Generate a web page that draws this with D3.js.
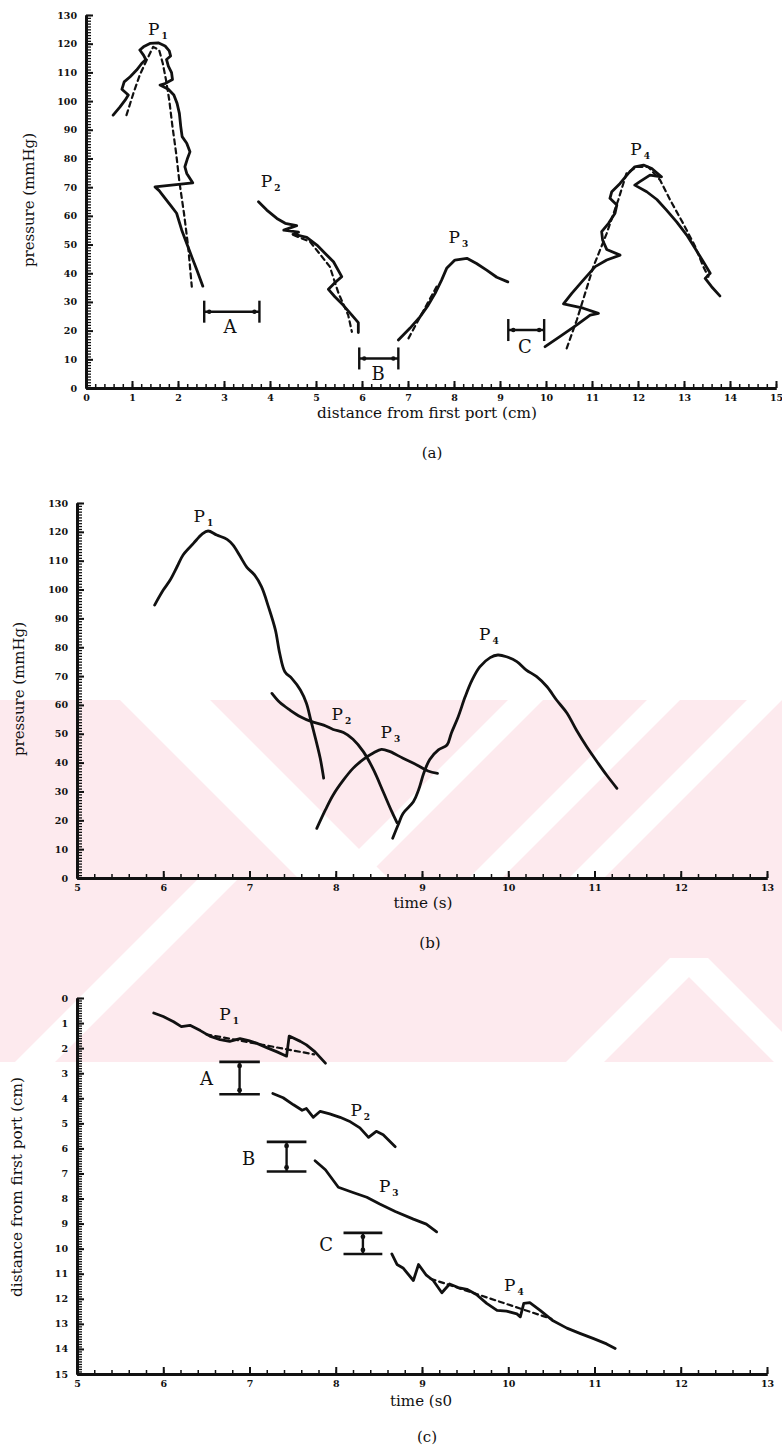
<!DOCTYPE html>
<html><head><meta charset="utf-8">
<script src="https://cdn.jsdelivr.net/npm/d3@7"></script>
<style>body{margin:0;background:#fff}svg{display:block}</style>
</head><body>
<svg id="chart" width="782" height="1451"></svg>
<script>
// ---------- DATA ----------
// Panel (a): pressure (mmHg) vs distance from first port (cm)
const aP1 = [[0.59,95.1],[0.74,98.0],[0.85,100.3],[0.92,102.1],[0.78,104.1],[0.83,106.7],[0.96,108.5],[1.10,110.8],[1.21,113.1],[1.30,114.5],[1.25,116.0],[1.17,117.8],[1.25,118.9],[1.39,120.1],[1.57,120.3],[1.72,119.2],[1.81,117.5],[1.84,115.7],[1.75,114.5],[1.79,112.2],[1.86,109.9],[1.88,107.5],[1.72,106.1],[1.61,105.6],[1.79,104.1],[1.91,102.1],[1.98,99.2],[2.03,95.7],[2.06,91.1],[2.09,87.6],[2.19,85.3],[2.26,82.3],[2.20,79.7],[2.15,77.1],[2.19,74.8],[2.32,71.5],[1.50,70.1],[1.59,68.8],[1.72,66.1],[1.86,63.2],[1.97,60.9],[2.08,55.1],[2.19,50.4],[2.30,45.7],[2.41,41.1],[2.54,35.5]];
const aP1fit = [[0.88,95.1],[1.03,102.7],[1.17,109.1],[1.32,114.3],[1.46,118.9],[1.59,117.8],[1.67,113.1],[1.74,107.3],[1.81,100.3],[1.88,91.1],[1.96,81.8],[2.03,71.9],[2.13,60.9],[2.22,49.4],[2.30,35.3]];
const aP2 = [[3.75,64.9],[3.93,62.0],[4.15,59.1],[4.33,57.4],[4.58,56.6],[4.30,55.0],[4.62,54.3],[4.50,53.6],[4.80,52.5],[5.02,49.8],[5.20,46.9],[5.38,44.0],[5.56,38.8],[5.41,36.7],[5.27,34.4],[5.41,31.8],[5.59,28.9],[5.78,25.4],[5.92,22.8],[5.92,19.3]];
const aP2fit = [[4.51,53.3],[4.87,51.0],[5.30,42.3],[5.49,33.0],[5.70,25.4],[5.78,19.6]];
const aP3 = [[6.79,16.7],[7.04,20.8],[7.26,24.8],[7.44,28.9],[7.59,33.0],[7.73,37.6],[7.84,41.7],[8.02,44.6],[8.28,45.2],[8.49,43.4],[8.71,41.1],[8.93,38.6],[9.17,37.0]];
const aP3fit = [[7.01,17.3],[7.62,35.3]];
const aP4 = [[9.98,14.4],[10.30,17.9],[10.67,22.0],[10.96,25.4],[11.14,26.0],[10.81,27.8],[10.38,29.3],[10.56,33.0],[10.81,37.6],[11.07,42.3],[11.32,44.6],[11.61,46.3],[11.32,48.3],[11.23,51.6],[11.21,54.5],[11.36,57.4],[11.50,60.9],[11.54,63.8],[11.39,66.1],[11.43,68.4],[11.61,71.3],[11.79,74.8],[11.93,77.1],[12.12,77.7],[12.30,76.5],[12.51,73.6],[12.26,74.2],[12.04,71.9],[11.93,70.7],[12.19,68.4],[12.41,65.7],[12.62,62.0],[12.84,57.9],[13.06,53.3],[13.24,48.7],[13.42,44.0],[13.57,40.0],[13.46,38.2],[13.60,35.3],[13.78,32.1]];
const aP4fit = [[10.45,13.8],[10.67,23.7],[10.85,33.0],[11.03,42.3],[11.32,53.9],[11.57,65.5],[11.75,74.8],[11.97,77.1],[12.22,77.1],[12.48,72.5],[12.70,65.5],[12.98,57.4],[13.24,49.4],[13.42,42.3],[13.53,38.8]];
const aRanges = [{name:"A",from:2.57,to:3.77,at:26.6},{name:"B",from:5.94,to:6.79,at:10.3},{name:"C",from:9.18,to:9.96,at:20.2}];
const aRangeText = [[3.13,19.2],[6.35,2.8],[9.54,12.2]];
const aPeakText = [[1.35,123.0],[3.80,70.0],[7.88,50.5],[11.83,81.2]];

// Panel (b): pressure (mmHg) vs time (s)
const bP1 = [[5.90,94.6],[6.00,99.8],[6.08,103.3],[6.16,107.9],[6.23,112.0],[6.35,116.0],[6.45,119.2],[6.52,120.3],[6.62,118.9],[6.74,117.4],[6.81,115.4],[6.89,111.6],[6.97,107.7],[7.06,105.0],[7.14,100.9],[7.22,94.0],[7.30,86.0],[7.35,77.9],[7.41,71.5],[7.49,69.2],[7.59,65.2],[7.66,60.6],[7.71,54.8],[7.77,47.8],[7.82,41.5],[7.86,34.6]];
const bP2 = [[7.26,64.0],[7.35,60.9],[7.47,58.2],[7.59,55.9],[7.72,54.2],[7.86,53.0],[7.97,51.5],[8.09,50.4],[8.20,48.1],[8.32,43.8],[8.44,37.4],[8.55,29.9],[8.65,23.0],[8.71,19.2]];
const bP3 = [[7.78,17.2],[7.88,23.6],[7.97,28.8],[8.09,34.0],[8.20,38.0],[8.32,41.1],[8.44,43.4],[8.53,44.6],[8.63,43.8],[8.78,41.5],[8.94,39.2],[9.07,37.1],[9.18,36.3]];
const bP4 = [[8.66,13.8],[8.73,18.9],[8.78,22.4],[8.90,26.4],[8.96,30.5],[9.02,36.3],[9.09,41.1],[9.19,44.4],[9.29,46.1],[9.34,50.2],[9.42,55.9],[9.50,62.8],[9.58,68.6],[9.67,73.2],[9.79,76.4],[9.88,77.3],[9.98,76.7],[10.10,75.0],[10.21,72.1],[10.33,69.8],[10.45,66.3],[10.56,61.7],[10.68,57.2],[10.79,51.3],[10.91,45.5],[11.03,40.3],[11.14,35.7],[11.26,31.1]];
const bPeakText = [[6.35,123.5],[7.95,54.8],[8.52,48.4],[9.66,82.5]];

// Panel (c): distance from first port (cm) vs time (s)
const cP1 = [[5.89,0.60],[6.00,0.74],[6.12,0.95],[6.21,1.14],[6.31,1.09],[6.43,1.30],[6.54,1.52],[6.66,1.66],[6.77,1.73],[6.89,1.62],[6.99,1.70],[7.08,1.80],[7.20,1.98],[7.32,2.15],[7.43,2.32],[7.46,1.52],[7.59,1.73],[7.66,1.87],[7.76,2.15],[7.88,2.60]];
const cP1fit = [[6.50,1.45],[7.75,2.25]];
const cP2 = [[7.27,3.81],[7.39,3.98],[7.51,4.26],[7.61,4.48],[7.66,4.41],[7.74,4.76],[7.82,4.52],[7.93,4.62],[8.05,4.76],[8.17,4.94],[8.28,5.18],[8.38,5.56],[8.47,5.32],[8.55,5.46],[8.69,5.93]];
const cP3 = [[7.76,6.49],[7.88,6.85],[8.03,7.55],[8.20,7.76],[8.36,7.95],[8.51,8.22],[8.69,8.52],[8.90,8.82],[9.05,9.02],[9.17,9.33]];
const cP4 = [[8.65,10.21],[8.71,10.63],[8.78,10.77],[8.90,11.27],[8.96,10.63],[9.05,11.06],[9.13,11.27],[9.23,11.76],[9.32,11.41],[9.42,11.55],[9.52,11.62],[9.63,11.83],[9.75,12.18],[9.87,12.46],[9.98,12.49],[10.10,12.60],[10.14,12.72],[10.18,12.18],[10.25,12.15],[10.37,12.46],[10.52,12.88],[10.68,13.17],[10.83,13.38],[10.99,13.59],[11.14,13.80],[11.24,13.98]];
const cP4fit = [[9.10,11.20],[10.50,12.80]];
const cRanges = [{name:"A",from:2.55,to:3.84,t0:6.65,t1:7.12},{name:"B",from:5.74,to:6.92,t0:7.20,t1:7.66},{name:"C",from:9.37,to:10.21,t0:8.09,t1:8.54}];
const cRangeText = [[6.50,3.47],[6.99,6.66],[7.89,10.09]];
const cPeakText = [[6.65,0.88],[8.17,4.69],[8.50,7.74],[9.95,11.69]];

// tick labels
const aXTicks = d3.range(0,16,1);
const aYTicks = d3.range(0,140,10);
const bXTicks = d3.range(5,14,1);
const bYTicks = d3.range(0,140,10);
const cXTicks = d3.range(5,14,1);
const cYTicks = d3.range(0,16,1);
const peakNames = ["1","2","3","4"];

// ---------- DRAWING ----------
const svg = d3.select("#chart");
svg.append("rect").attr("width",782).attr("height",1451).attr("fill","#fff");

// faint background watermark: pink band with a few white diagonal stripes
const defs = svg.append("defs");
defs.append("clipPath").attr("id","band").append("rect").attr("x",0).attr("y",700).attr("width",782).attr("height",362);
const wg = svg.append("g").attr("clip-path","url(#band)");
wg.append("rect").attr("x",0).attr("y",700).attr("width",782).attr("height",362).attr("fill","#fdeaee");
const W = "#ffffff";
function poly(pts){ wg.append("polygon").attr("points",pts.map(p=>p.join(",")).join(" ")).attr("fill",W); }
// "/" stripes on the right side (x + y = const)
[[1208,1243],[1347,1380],[1447,1482]].forEach(([c0,c1])=>{
  poly([[c0-700,700],[c1-700,700],[c1-880,880],[c0-880,880]]);
});
// "\" stripe on the left side (y - x = const)
poly([[210,700],[120,700],[300,880],[390,880]]);
// lower-left "/" stripe
poly([[237,880],[197,880],[15,1062],[55,1062]]);
// up-pointing chevron at the lower right
poly([[670,958],[708,958],[812,1062],[774,1062]]);
poly([[670,958],[708,958],[604,1062],[566,1062]]);

const INK="#111";
const serif="'DejaVu Serif', 'Liberation Serif', serif";

function panel(cfg){
  const g = svg.append("g");
  const x = d3.scaleLinear().domain(cfg.xd).range(cfg.xr);
  const y = d3.scaleLinear().domain(cfg.yd).range(cfg.yr);
  const axisY = cfg.axisAtY;
  const axisX = cfg.xr[0];
  const gx = g.append("g").attr("transform",`translate(0,${axisY})`);
  gx.call(d3.axisBottom(x).tickValues(cfg.xMinor).tickSize(-4).tickSizeOuter(0).tickFormat(""));
  gx.selectAll(".tick line").attr("stroke-width",1.5);
  const gxm = g.append("g").attr("transform",`translate(0,${axisY})`);
  gxm.call(d3.axisBottom(x).tickValues(cfg.xTicks).tickSize(-7).tickSizeOuter(0).tickPadding(6).tickFormat(d3.format("d")));
  gxm.selectAll(".tick line").attr("stroke-width",2);
  const gy = g.append("g").attr("transform",`translate(${axisX},0)`);
  gy.call(d3.axisLeft(y).tickValues(cfg.yMinor).tickSize(-5).tickSizeOuter(0).tickFormat(""));
  gy.selectAll(".tick line").attr("stroke-width",1.3);
  const gym = g.append("g").attr("transform",`translate(${axisX},0)`);
  gym.call(d3.axisLeft(y).tickValues(cfg.yTicks).tickSize(-7).tickSizeOuter(0).tickPadding(9).tickFormat(d3.format("d")));
  gym.selectAll(".tick line").attr("stroke-width",2);
  g.selectAll(".domain").attr("stroke",INK).attr("stroke-width",3);
  g.selectAll(".tick line").attr("stroke",INK);
  g.selectAll(".tick text").attr("fill",INK).attr("font-family",serif).attr("font-weight","bold").attr("font-size",9.5);
  return {g,x,y};
}

function drawLine(P, data, curve, dashed){
  const line = d3.line().x(d=>P.x(d[0])).y(d=>P.y(d[1])).curve(curve||d3.curveLinear);
  P.g.append("path").datum(data).attr("d",line).attr("fill","none").attr("stroke",INK)
    .attr("stroke-width",dashed?2.2:2.8).attr("stroke-linejoin","round").attr("stroke-linecap","round")
    .attr("stroke-dasharray",dashed?"5,4":null);
}
function peakLabels(P, pos){
  pos.forEach((p,i)=>{
    const t=P.g.append("text").attr("x",P.x(p[0])).attr("y",P.y(p[1])).attr("font-family",serif).attr("font-size",17).attr("fill",INK);
    t.append("tspan").text("P");
    t.append("tspan").attr("font-size",9).attr("font-weight","bold").attr("dx",2).attr("dy",4).text(peakNames[i]);
  });
}
function textAt(P, s, x, y, size, anchor, rot){
  const t=P.g.append("text").attr("font-family",serif).attr("font-size",size).attr("fill",INK).attr("text-anchor",anchor||"middle").text(s);
  if(rot){ t.attr("transform",`translate(${x},${y}) rotate(-90)`); } else { t.attr("x",x).attr("y",y); }
  return t;
}

// ---- Panel (a)
const A = panel({xd:[0,15],xr:[86,776],yd:[0,130],yr:[388,15],axisAtY:388,
  xTicks:aXTicks,xMinor:d3.range(0,15.01,0.2),yTicks:aYTicks,yMinor:d3.range(0,130.5,1)});
drawLine(A,aP1); drawLine(A,aP1fit,null,true);
drawLine(A,aP2); drawLine(A,aP2fit,null,true);
drawLine(A,aP3); drawLine(A,aP3fit,null,true);
drawLine(A,aP4); drawLine(A,aP4fit,null,true);
aRanges.forEach((r,i)=>{
  const x0=A.x(r.from), x1=A.x(r.to), yy=A.y(r.at);
  A.g.append("line").attr("x1",x0).attr("x2",x1).attr("y1",yy).attr("y2",yy).attr("stroke",INK).attr("stroke-width",2.6);
  [x0,x1].forEach(xx=>A.g.append("line").attr("x1",xx).attr("x2",xx).attr("y1",yy-11).attr("y2",yy+11).attr("stroke",INK).attr("stroke-width",2.4));
  [x0+5,x1-5].forEach(xx=>A.g.append("circle").attr("cx",xx).attr("cy",yy).attr("r",2.2).attr("fill",INK));
  textAt(A, r.name, A.x(aRangeText[i][0]), A.y(aRangeText[i][1]), 18);
});
peakLabels(A,aPeakText);
textAt(A,"pressure (mmHg)",34,200,15,"middle",true).attr("textLength",134).attr("lengthAdjust","spacingAndGlyphs");
textAt(A,"distance from first port (cm)",427,418,15).attr("textLength",220).attr("lengthAdjust","spacingAndGlyphs");
textAt(A,"(a)",432,458,15);

// ---- Panel (b)
const B = panel({xd:[5,13],xr:[77,767],yd:[0,130],yr:[878,503],axisAtY:878,
  xTicks:bXTicks,xMinor:d3.range(5,13.01,0.2),yTicks:bYTicks,yMinor:d3.range(0,130.5,1)});
[bP1,bP2,bP3,bP4].forEach(d=>drawLine(B,d,d3.curveCatmullRom.alpha(0.5)));
peakLabels(B,bPeakText);
textAt(B,"pressure (mmHg)",24,689,15,"middle",true).attr("textLength",134).attr("lengthAdjust","spacingAndGlyphs");
textAt(B,"time (s)",423,908,15).attr("textLength",59).attr("lengthAdjust","spacingAndGlyphs");
textAt(B,"(b)",430,948,15);

// ---- Panel (c)
const C = panel({xd:[5,13],xr:[77,767],yd:[0,15],yr:[998,1374],axisAtY:1374,
  xTicks:cXTicks,xMinor:d3.range(5,13.01,0.2),yTicks:cYTicks,yMinor:d3.range(0,15.01,0.1)});
drawLine(C,cP1); drawLine(C,cP1fit,null,true);
drawLine(C,cP2); drawLine(C,cP3);
drawLine(C,cP4); drawLine(C,cP4fit,null,true);
cRanges.forEach((r,i)=>{
  const x0=C.x(r.t0), x1=C.x(r.t1), xm=(x0+x1)/2, y0=C.y(r.from), y1=C.y(r.to);
  [y0,y1].forEach(yy=>C.g.append("line").attr("x1",x0).attr("x2",x1).attr("y1",yy).attr("y2",yy).attr("stroke",INK).attr("stroke-width",2.6));
  C.g.append("line").attr("x1",xm).attr("x2",xm).attr("y1",y0).attr("y2",y1).attr("stroke",INK).attr("stroke-width",2.4);
  [y0+4,y1-4].forEach(yy=>C.g.append("circle").attr("cx",xm).attr("cy",yy).attr("r",2.4).attr("fill",INK));
  textAt(C, r.name, C.x(cRangeText[i][0]), C.y(cRangeText[i][1]), 18);
});
peakLabels(C,cPeakText);
textAt(C,"distance from first port (cm)",22,1187,15,"middle",true).attr("textLength",220).attr("lengthAdjust","spacingAndGlyphs");
textAt(C,"time (s0",421,1406,15).attr("textLength",62).attr("lengthAdjust","spacingAndGlyphs");
textAt(C,"(c)",427,1442,15);
</script>
</body></html>
